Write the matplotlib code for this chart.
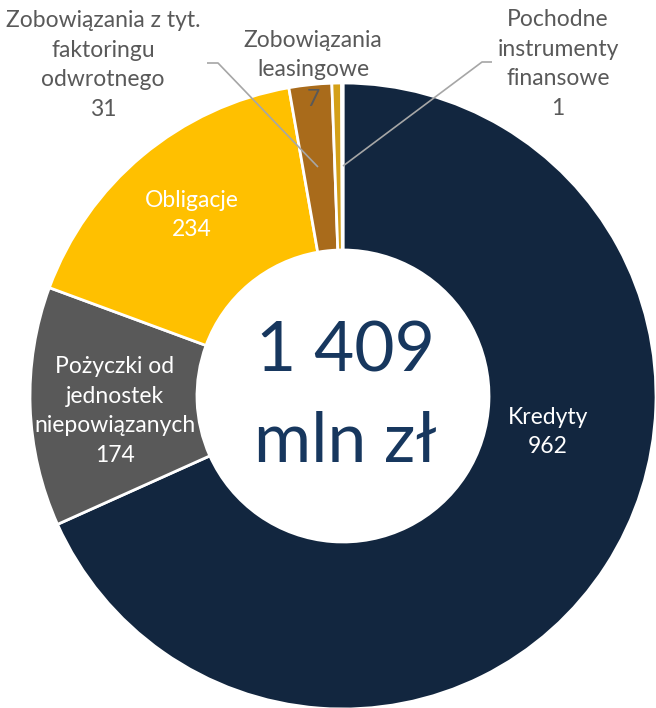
"""Donut chart of debt structure (mln zł)."""

import matplotlib

matplotlib.use("Agg")
import matplotlib.pyplot as plt

plt.rcParams["font.family"] = ["Lato", "DejaVu Sans"]

# data
categories = [
    "Kredyty",
    "Pożyczki od\njednostek\nniepowiązanych",
    "Obligacje",
    "Zobowiązania z tyt.\nfaktoringu\nodwrotnego",
    "Zobowiązania\nleasingowe",
    "Pochodne\ninstrumenty\nfinansowe",
]
values = [962, 174, 234, 31, 7, 1]
colors = ["#12263F", "#595959", "#FFC000", "#A96B1B", "#D4A017", "#8C8C8C"]
total_label = ["1 409", "mln zł"]

# layout, in pixels from the top-left corner
W, H = 656, 708
CENTER = (343, 396)
R_OUT, R_IN = 313, 146
label_pos = [(548, 432), (115, 411), (192, 215), (103, 65), (313, 70), (558, 64)]
label_color = ["white", "white", "white", "#595959", "#595959", "#595959"]
leaders = {
    3: [(207, 63), (218, 63), (318, 167)],
    5: [(492, 62), (482, 62), (343, 166)],
}


def py(y):
    """Flip a pixel row into data coordinates."""
    return H - y


fig = plt.figure(figsize=(W / 100, H / 100), dpi=100)
ax = fig.add_axes([0, 0, 1, 1])

ax.pie(
    values,
    colors=colors,
    startangle=90,
    counterclock=False,
    radius=R_OUT,
    center=(CENTER[0], py(CENTER[1])),
    wedgeprops=dict(width=R_OUT - R_IN, edgecolor="white", linewidth=2),
)
ax.set_xlim(0, W)
ax.set_ylim(0, H)
ax.set_aspect("equal")
ax.axis("off")

for i, (cat, val) in enumerate(zip(categories, values)):
    x, y = label_pos[i]
    ax.text(x, py(y), f"{cat}\n{val}", ha="center", va="center",
            fontsize=16.5, color=label_color[i], linespacing=1.5)

for pts in leaders.values():
    ax.plot([p[0] for p in pts], [py(p[1]) for p in pts],
            color="#A6A6A6", lw=1.2, solid_capstyle="butt")

ax.text(CENTER[0] + 2, py(352), total_label[0], ha="center", va="center",
        fontsize=50, color="#17375E")
ax.text(CENTER[0] + 2, py(442), total_label[1], ha="center", va="center",
        fontsize=50, color="#17375E")

fig.savefig("out.png", dpi=100)
